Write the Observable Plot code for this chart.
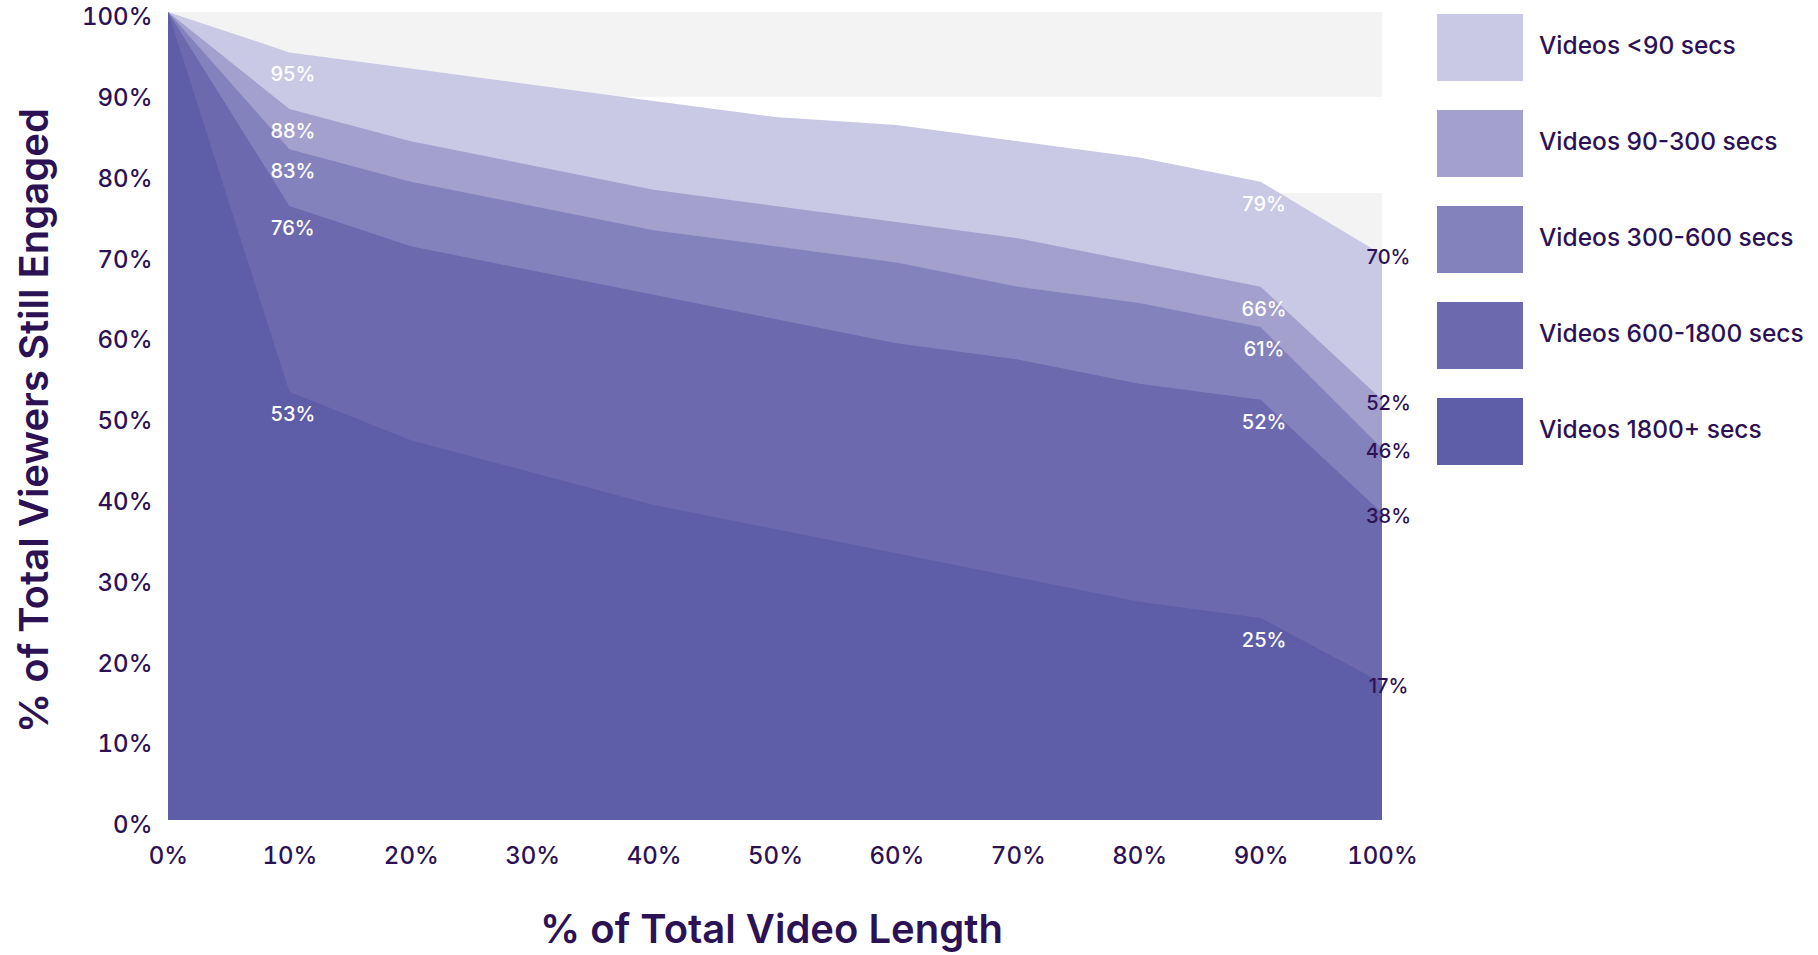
<!DOCTYPE html>
<html>
<head>
<meta charset="utf-8">
<script src="https://cdn.jsdelivr.net/npm/d3@7"></script>
<script src="https://cdn.jsdelivr.net/npm/@observablehq/plot@0.6"></script>
<style>
  html, body { margin: 0; padding: 0; background: #ffffff; }
  #wrap { position: relative; width: 1818px; height: 955px; overflow: hidden; font-family: Inter, "Open Sans", sans-serif; }
  #chart { position: absolute; left: 0; top: 0; }
  #legend { position: absolute; left: 1437px; top: 14px; }
  .item { display: flex; align-items: center; height: 67px; margin-bottom: 29px; }
  .sw { width: 86px; height: 67px; flex: none; }
  .lab { margin-left: 16px; margin-top: -6px; font-size: 24.5px; font-weight: 500; color: #2c1254; white-space: nowrap; }
</style>
</head>
<body>
<div id="wrap">
  <div id="chart"></div>
  <div id="legend"></div>
</div>
<script>
// ---- data ----
const videoLengthPct = [0, 10, 20, 30, 40, 50, 60, 70, 80, 90, 100];
const seriesNames = ["Videos <90 secs", "Videos 90-300 secs", "Videos 300-600 secs", "Videos 600-1800 secs", "Videos 1800+ secs"];
const under90 = [100, 95, 93, 91, 89, 87, 86, 84, 82, 79, 70];
const from90to300 = [100, 88, 84, 81, 78, 76, 74, 72, 69, 66, 52];
const from300to600 = [100, 83, 79, 76, 73, 71, 69, 66, 64, 61, 46];
const from600to1800 = [100, 76, 71, 68, 65, 62, 59, 57, 54, 52, 38];
const over1800 = [100, 53, 47, 43, 39, 36, 33, 30, 27, 25, 17];
const seriesValues = [under90, from90to300, from300to600, from600to1800, over1800];
const seriesColors = ["#c9c8e5", "#a3a0ce", "#8482bd", "#6c69ae", "#5e5da8"];
const yTickValues = [0, 10, 20, 30, 40, 50, 60, 70, 80, 90, 100];
const xTickValues = [0, 10, 20, 30, 40, 50, 60, 70, 80, 90, 100];
const whiteLabelAt = [10, 90];
const darkLabelAt = [100];
const shadeBandTop = [100, 77.6];
const shadeBandBottom = [89.5, 66];

const dark = "#2c1254";
const font = "Inter, 'Open Sans', sans-serif";

// ---- table ----
const rows = [];
seriesNames.forEach((name, i) => {
  videoLengthPct.forEach((x, j) => rows.push({series: name, x, v: seriesValues[i][j]}));
});
const whiteLabels = rows.filter(d => whiteLabelAt.includes(d.x));
const darkLabels = rows.filter(d => darkLabelAt.includes(d.x));
const bands = shadeBandTop.map((t, i) => ({y1: shadeBandBottom[i], y2: t}));

const hasAxisMarks = typeof Plot.axisY === "function";
const pct = d => d + "%";

const chart = Plot.plot({
  width: 1440,
  height: 955,
  marginLeft: 168,
  marginRight: 58,
  marginTop: 12,
  marginBottom: 135,
  style: {fontFamily: font, fontSize: "24px", color: dark, background: "transparent", fontWeight: 500},
  x: {domain: [0, 100], ticks: xTickValues, tickFormat: pct, tickSize: 0, tickPadding: 26, label: null},
  y: {domain: [0, 100], ticks: yTickValues, tickFormat: pct, tickSize: 0, tickPadding: 16, label: null},
  color: {domain: seriesNames, range: seriesColors},
  marks: [
    Plot.rect(bands, {x1: 0, x2: 100, y1: "y1", y2: "y2", fill: "#f2f3f2"}),
    Plot.areaY(rows, {x: "x", y1: 0, y2: "v", z: "series", fill: "series", curve: "linear"}),
    Plot.text(whiteLabels, {x: "x", y: "v", text: d => pct(d.v), dy: 22, dx: 3, fill: "white", fontSize: 20, fontWeight: 500}),
    Plot.text(darkLabels, {x: "x", y: "v", text: d => pct(d.v), dy: 3, dx: 6, fill: dark, fontSize: 20, fontWeight: 500}),
    hasAxisMarks ? Plot.axisY({ticks: yTickValues, tickFormat: pct, tickSize: 0, tickPadding: 16, dy: 5, label: null, fontSize: 24}) : null,
    Plot.text(["% of Total Video Length"], {frameAnchor: "bottom", lineAnchor: "middle", dy: 110, dx: -4, fill: dark, fontSize: 40, fontWeight: 600}),
    Plot.text(["% of Total Viewers Still Engaged"], {frameAnchor: "left", textAnchor: "middle", lineAnchor: "middle", rotate: -90, dx: -133, dy: 4, fill: dark, fontSize: 40, fontWeight: 600})
  ]
});
document.getElementById("chart").appendChild(chart);

// ---- legend ----
const legend = document.getElementById("legend");
seriesNames.forEach((name, i) => {
  const item = document.createElement("div");
  item.className = "item";
  const sw = document.createElement("div");
  sw.className = "sw";
  sw.style.background = seriesColors[i];
  const lab = document.createElement("div");
  lab.className = "lab";
  lab.textContent = name;
  item.appendChild(sw);
  item.appendChild(lab);
  legend.appendChild(item);
});
</script>
</body>
</html>
